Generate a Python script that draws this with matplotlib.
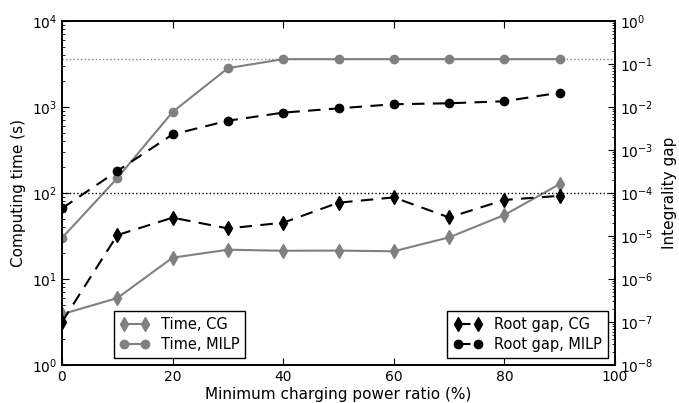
import numpy as np
import matplotlib
matplotlib.use("Agg")
import matplotlib.pyplot as plt
from matplotlib.ticker import LogLocator, LogFormatterSciNotation, NullFormatter

ratio = [0, 10, 20, 30, 40, 50, 60, 70, 80, 90]
time_cg = [3.9, 6.0, 17.7, 21.9, 21.3, 21.4, 21.0, 30.5, 55.5, 127]
time_milp = [30, 149, 875, 2830, 3600, 3600, 3600, 3600, 3600, 3600]
gap_cg = [1.0e-7, 1.05e-5, 2.67e-5, 1.5e-5, 2.04e-5, 5.95e-5, 7.9e-5, 2.7e-5, 6.9e-5, 8.6e-5]
gap_milp = [4.4e-5, 3.25e-4, 2.3e-3, 4.8e-3, 7.4e-3, 9.3e-3, 1.16e-2, 1.22e-2, 1.36e-2, 2.15e-2]
time_limit = 3600
ref_line = 100

plt.rcParams['font.family'] = 'DejaVu Sans'
plt.rcParams['xtick.direction'] = 'in'
plt.rcParams['ytick.direction'] = 'in'
plt.rcParams['mathtext.default'] = 'regular'

fig = plt.figure(figsize=(6.79, 4.03), dpi=100)
ax = fig.add_axes([62 / 679, 38 / 403, 553 / 679, 344 / 403])
ax2 = ax.twinx()

grey = '0.5'
l1, = ax.plot(ratio, time_cg, color=grey, marker='d', markersize=7, markeredgecolor=grey,
              label='Time, CG')
l2, = ax.plot(ratio, time_milp, color=grey, marker='o', markersize=6, markeredgecolor=grey,
              label='Time, MILP')
ax.axhline(time_limit, color=grey, linestyle=':', linewidth=1)
ax.axhline(ref_line, color='k', linestyle=':', linewidth=1)

l3, = ax2.plot(ratio, gap_cg, color='k', linestyle='--', dashes=(6, 4), marker='d',
               markersize=7, label='Root gap, CG')
l4, = ax2.plot(ratio, gap_milp, color='k', linestyle='--', dashes=(6, 4), marker='o',
               markersize=6, label='Root gap, MILP')

ax.set_xlim(0, 100)
ax.set_yscale('log')
ax.set_ylim(1, 1e4)
ax2.set_yscale('log')
ax2.set_ylim(1e-8, 1)

for a, n in ((ax, 5), (ax2, 9)):
    a.yaxis.set_major_locator(LogLocator(base=10, numticks=n))
    a.yaxis.set_major_formatter(LogFormatterSciNotation())
    a.yaxis.set_minor_locator(LogLocator(base=10, subs=np.arange(2, 10), numticks=20))
    a.yaxis.set_minor_formatter(NullFormatter())

ax.tick_params(axis='x', which='both', top=True, length=5, labelsize=10)
ax.tick_params(axis='y', which='major', length=5, labelsize=10)
ax.tick_params(axis='y', which='minor', length=2.5)
ax2.tick_params(axis='y', which='major', length=5, labelsize=10)
ax2.tick_params(axis='y', which='minor', length=2.5)

for a in (ax, ax2):
    for s in a.spines.values():
        s.set_linewidth(1.2)

ax.set_xlabel('Minimum charging power ratio (%)', fontsize=11, labelpad=2)
ax.set_ylabel('Computing time (s)', fontsize=11, labelpad=4)
ax2.set_ylabel('Integrality gap', fontsize=11, labelpad=6)

leg1 = ax2.legend(handles=[l1, l2], loc='lower left', bbox_to_anchor=(0.094, 0.02),
                  numpoints=2, fontsize=10.5, fancybox=False, framealpha=1,
                  edgecolor='k', borderaxespad=0, handlelength=2, labelspacing=0.35)
leg1.get_frame().set_linewidth(1)
ax2.add_artist(leg1)
leg2 = ax2.legend(handles=[l3, l4], loc='lower right', bbox_to_anchor=(0.987, 0.02),
                  numpoints=2, fontsize=10.5, fancybox=False, framealpha=1,
                  edgecolor='k', borderaxespad=0, handlelength=2, labelspacing=0.35)
leg2.get_frame().set_linewidth(1)

fig.savefig('out.png', dpi=100, facecolor='white')
